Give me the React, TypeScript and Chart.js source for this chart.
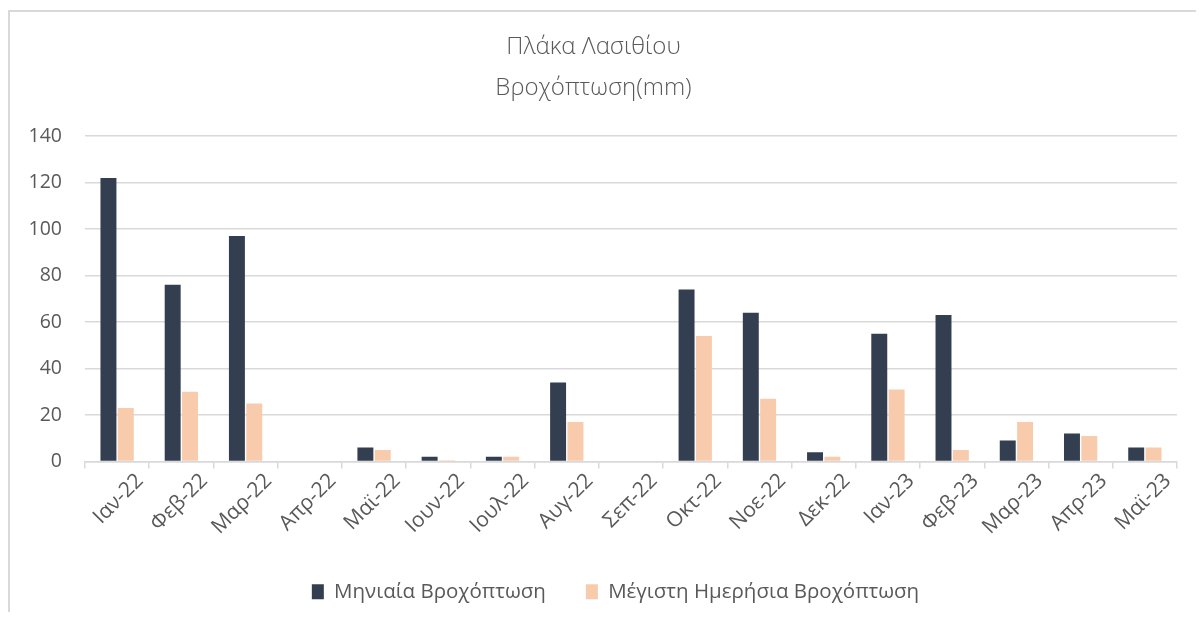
import React, { useEffect, useRef } from "react";
import { Chart, registerables } from "chart.js";

Chart.register(...registerables);

const categories = [
  "Ιαν-22", "Φεβ-22", "Μαρ-22", "Απρ-22", "Μαϊ-22", "Ιουν-22", "Ιουλ-22", "Αυγ-22", "Σεπ-22",
  "Οκτ-22", "Νοε-22", "Δεκ-22", "Ιαν-23", "Φεβ-23", "Μαρ-23", "Απρ-23", "Μαϊ-23",
];
const monthlyRain = [122, 76, 97, 0, 6, 2, 2, 34, 0, 74, 64, 4, 55, 63, 9, 12, 6];
const maxDailyRain = [23, 30, 25, 0, 5, 0.5, 2, 17, 0, 54, 27, 2, 31, 5, 17, 11, 6];
const seriesNames = ["Μηνιαία Βροχόπτωση", "Μέγιστη Ημερήσια Βροχόπτωση"];
const titleLines = ["Πλάκα Λασιθίου", "Βροχόπτωση(mm)"];
const yTicks = [0, 20, 40, 60, 80, 100, 120, 140];

const FONT = "'Open Sans', 'Noto Sans', sans-serif";
const TEXT = "#595959";
const GRID = "#d9d9d9";

const legendShift = {
  id: "legendShift",
  afterLayout(chart: any) {
    const lg = chart.legend;
    if (lg) {
      lg.left += 22;
      lg.right += 22;
    }
  },
};

export default function App() {
  const ref = useRef<HTMLCanvasElement | null>(null);

  useEffect(() => {
    if (!ref.current) return;
    const chart = new Chart(ref.current, {
      type: "bar",
      data: {
        labels: categories,
        datasets: [
          {
            label: seriesNames[0],
            data: monthlyRain,
            backgroundColor: "#333f50",
            categoryPercentage: 0.54,
            barPercentage: 0.92,
          },
          {
            label: seriesNames[1],
            data: maxDailyRain,
            backgroundColor: "#f8cbad",
            categoryPercentage: 0.54,
            barPercentage: 0.92,
          },
        ],
      },
      plugins: [legendShift],
      options: {
        responsive: false,
        animation: false,
        layout: { padding: { top: 0, left: 0, right: 13, bottom: 0 } },
        plugins: {
          tooltip: { enabled: false },
          title: {
            display: true,
            text: titleLines,
            color: TEXT,
            font: { family: FONT, size: 24, weight: "300", lineHeight: 1.71 },
            padding: { top: 14.5, bottom: 27.5 },
          },
          legend: {
            position: "bottom",
            labels: {
              color: TEXT,
              font: { family: FONT, size: 20.5 },
              boxWidth: 12,
              boxHeight: 15,
              padding: 40,
            },
          },
        },
        scales: {
          x: {
            grid: {
              display: true,
              drawOnChartArea: false,
              drawTicks: true,
              tickLength: 7,
              color: GRID,
              lineWidth: 1.5,
            },
            border: { display: true, color: GRID, width: 1.5 },
            ticks: {
              color: TEXT,
              font: { family: FONT, size: 21 },
              autoSkip: false,
              minRotation: 45,
              maxRotation: 45,
              labelOffset: 23,
              padding: 0,
            },
            afterFit: (s: any) => {
              s.height = 80;
            },
          },
          y: {
            min: 0,
            max: 140,
            afterBuildTicks: (s: any) => {
              s.ticks = yTicks.map((v) => ({ value: v }));
            },
            grid: { color: GRID, lineWidth: 1.5, drawTicks: false },
            border: { display: false },
            ticks: {
              color: TEXT,
              font: { family: FONT, size: 19.5 },
              padding: 23,
            },
            afterFit: (s: any) => {
              s.width = 75;
            },
          },
        },
      },
    });
    return () => chart.destroy();
  }, []);

  return (
    <div style={{ paddingTop: 2 }}>
      <div
        style={{
          borderTop: `2px solid ${GRID}`,
          borderLeft: `2px solid ${GRID}`,
          width: 1186,
          height: 600,
          background: "#fff",
        }}
      >
        <canvas ref={ref} width={1180} height={600} style={{ display: "block" }} />
      </div>
    </div>
  );
}
